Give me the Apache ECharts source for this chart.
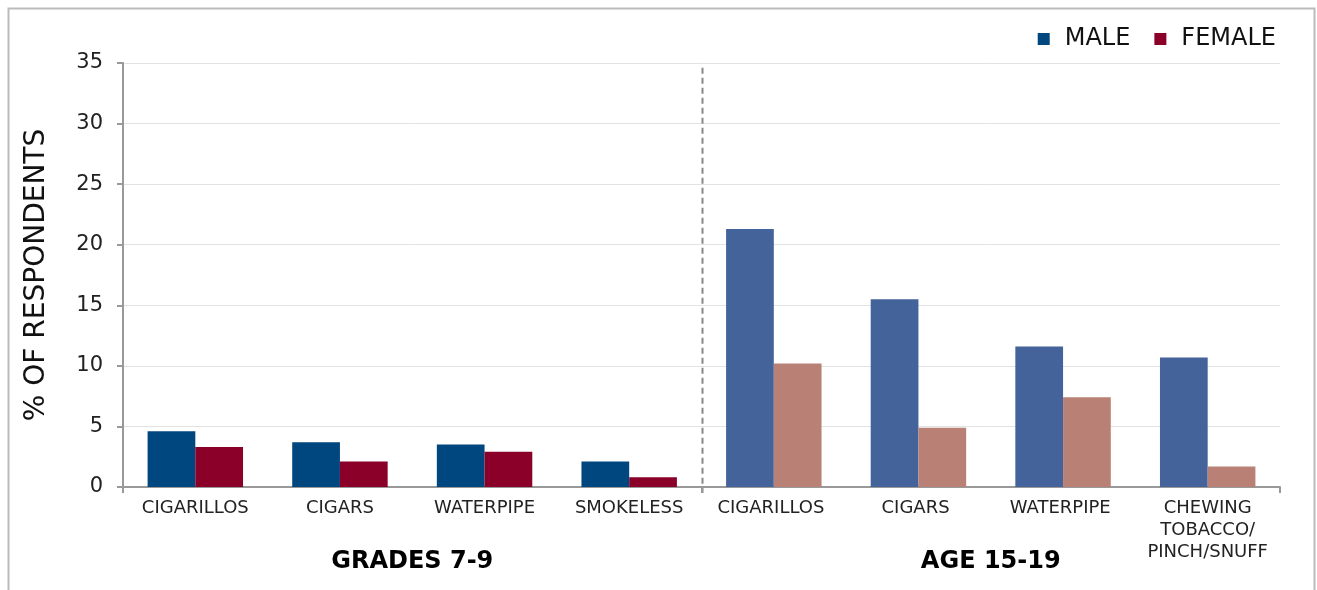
<!DOCTYPE html>
<html>
<head>
<meta charset="utf-8">
<script src="https://cdn.jsdelivr.net/npm/echarts@6/dist/echarts.min.js"></script>
<style>
  html, body { margin: 0; padding: 0; background: #fff; }
  #chart { width: 1317px; height: 590px; }
</style>
</head>
<body>
<div id="chart"></div>
<script>
const categories = ['CIGARILLOS', 'CIGARS', 'WATERPIPE', 'SMOKELESS',
  'CIGARILLOS ', 'CIGARS ', 'WATERPIPE ', 'CHEWING\nTOBACCO/\nPINCH/SNUFF'];
const groups = ['GRADES 7-9', 'AGE 15-19'];
const maleValues = [4.6, 3.7, 3.5, 2.1, 21.3, 15.5, 11.6, 10.7];
const femaleValues = [3.3, 2.1, 2.9, 0.8, 10.2, 4.9, 7.4, 1.7];
const yTicks = [0, 5, 10, 15, 20, 25, 30, 35];

const FONT = 'DejaVu Sans';
const maleColors = ['#00467f', '#43639a'];
const femaleColors = ['#8b0029', '#b98176'];

const chart = echarts.init(document.getElementById('chart'));

// grade groups use dark colours, age groups lighter ones
const paint = (vals, cols) => vals.map((v, i) => ({
  value: v,
  itemStyle: { color: i < 4 ? cols[0] : cols[1] }
}));

chart.setOption({
  animation: false,
  textStyle: { fontFamily: FONT },
  legend: {
    right: 36,
    top: 22,
    itemWidth: 12,
    itemHeight: 12,
    itemGap: 24,
    icon: 'rect',
    textStyle: { fontSize: 24, color: '#111', fontFamily: FONT, padding: [0, 0, 0, 10] },
    data: ['MALE', 'FEMALE']
  },
  grid: { left: 123, right: 37, top: 63, bottom: 103 },
  xAxis: [
    {
      type: 'category',
      data: categories,
      axisLine: { lineStyle: { color: '#999', width: 2 } },
      axisTick: { show: false },
      axisLabel: {
        color: '#222',
        fontFamily: FONT,
        fontSize: 18,
        margin: 10,
        lineHeight: 22,
        verticalAlign: 'top',
        interval: 0
      }
    },
    {
      type: 'category',
      data: groups,
      position: 'bottom',
      axisLine: { show: false },
      axisTick: { show: true, length: 6, lineStyle: { color: '#999', width: 2 } },
      axisLabel: { color: '#000', fontFamily: FONT, fontSize: 24, fontWeight: 'bold', margin: 63 }
    }
  ],
  yAxis: {
    type: 'value',
    min: 0,
    max: 35,
    interval: 5,
    name: '% OF RESPONDENTS',
    nameLocation: 'middle',
    nameGap: 72,
    nameTextStyle: { fontSize: 28, color: '#111', fontFamily: FONT },
    axisLine: { show: true, lineStyle: { color: '#999', width: 2 } },
    axisTick: { show: true, length: 6, lineStyle: { color: '#999', width: 2 } },
    axisLabel: {
      color: '#222', fontFamily: FONT, fontSize: 21, margin: 20,
      formatter: v => yTicks.includes(v) ? String(v) : ''
    },
    splitLine: { lineStyle: { color: '#e2e2e2', width: 1 } }
  },
  series: [
    {
      name: 'MALE',
      type: 'bar',
      barGap: 0,
      barCategoryGap: '34%',
      itemStyle: { color: maleColors[0] },
      data: paint(maleValues, maleColors)
    },
    {
      name: 'FEMALE',
      type: 'bar',
      itemStyle: { color: femaleColors[0] },
      data: paint(femaleValues, femaleColors)
    }
  ]
});

// dashed divider between the two groups + outer frame
const x1 = chart.convertToPixel({ xAxisIndex: 0 }, categories[3]);
const x2 = chart.convertToPixel({ xAxisIndex: 0 }, categories[4]);
const midX = Math.round((x1 + x2) / 2) + 0.5;
const yTop = chart.convertToPixel({ yAxisIndex: 0 }, 34.6);
const yBot = chart.convertToPixel({ yAxisIndex: 0 }, 0) + 6;

chart.setOption({
  graphic: [
    {
      type: 'line',
      shape: { x1: midX, y1: yTop, x2: midX, y2: yBot },
      style: { stroke: '#888', lineWidth: 2, lineDash: [6, 4] },
      silent: true
    },
    {
      type: 'rect',
      shape: { x: 8.5, y: 8.5, width: 1306, height: 700 },
      style: { fill: null, stroke: '#bbb', lineWidth: 2 },
      silent: true
    }
  ]
});
</script>
</body>
</html>
